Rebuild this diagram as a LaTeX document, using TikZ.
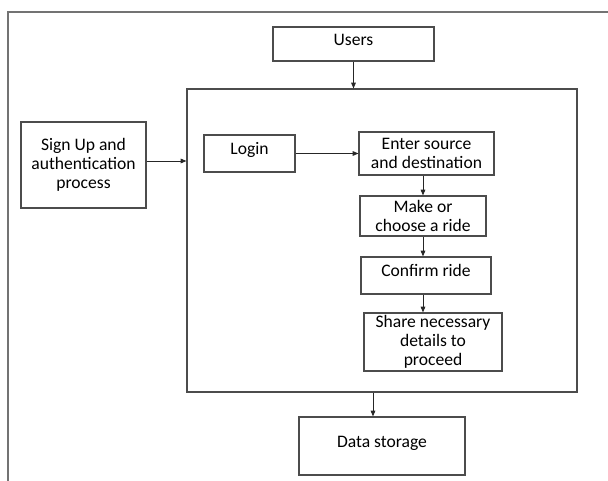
\documentclass[tikz,border=0pt]{standalone}
\usepackage{fontspec}
\setmainfont{Carlito}
\usetikzlibrary{arrows.meta}

\begin{document}
\begin{tikzpicture}[>={Triangle[length=5pt,width=4pt]}, x=0.03cm, y=-0.03cm]
  \tikzset{box/.style={draw=black!70, line width=0.9pt, inner sep=0pt, align=center,
      font=\fontsize{15}{16.2}\selectfont},
    onerow/.style={text height=0.38cm, text depth=0.31cm},
    link/.style={->, draw=black!85, line width=0.8pt}}
  \useasboundingbox (0,0) rectangle (608,481);
  % outer frame, open at the bottom
  \draw[black!55, line width=0.9pt] (8,481) -- (8,12) -- (608,12);

  \node[box, onerow, minimum width=4.83cm, minimum height=1.02cm] (users) at (353.5,44) {Users};
  \node[box, minimum width=11.7cm, minimum height=9.09cm] (app) at (382,240.5) {};
  \node[box, minimum width=3.75cm, minimum height=2.58cm] (signup) at (83.5,165)
    {Sign Up and\\authentication\\process};
  \node[box, onerow, minimum width=2.73cm, minimum height=1.11cm] (login) at (249.5,153.5) {Login};
  \node[box, minimum width=4.05cm, minimum height=1.29cm] (enter) at (426.5,153.5)
    {Enter source\\and destination};
  \node[box, minimum width=3.78cm, minimum height=1.2cm] (make) at (423,216)
    {Make or\\choose a ride};
  \node[box, onerow, minimum width=3.9cm, minimum height=1.11cm] (confirm) at (426,275.5) {Confirm ride};
  \node[box, minimum width=4.14cm, minimum height=1.74cm] (share) at (433,342)
    {Share necessary\\details to\\proceed};
  \node[box, onerow, minimum width=4.98cm, minimum height=1.74cm] (data) at (382,446) {Data storage};

  \draw[link] (users) -- (app.north -| users);
  \draw[link] ([yshift=0.12cm]signup.east) -- ([yshift=0.12cm]signup.east -| app.west);
  \draw[link] (login) -- (enter);
  \draw[link] (enter.south -| make) -- (make);
  \draw[link] (make) -- (confirm.north -| make);
  \draw[link] (confirm.south -| make) -- (share.north -| make);
  \draw[link] ([xshift=-0.27cm]app.south) -- ([xshift=-0.27cm]data.north);
\end{tikzpicture}
\end{document}
